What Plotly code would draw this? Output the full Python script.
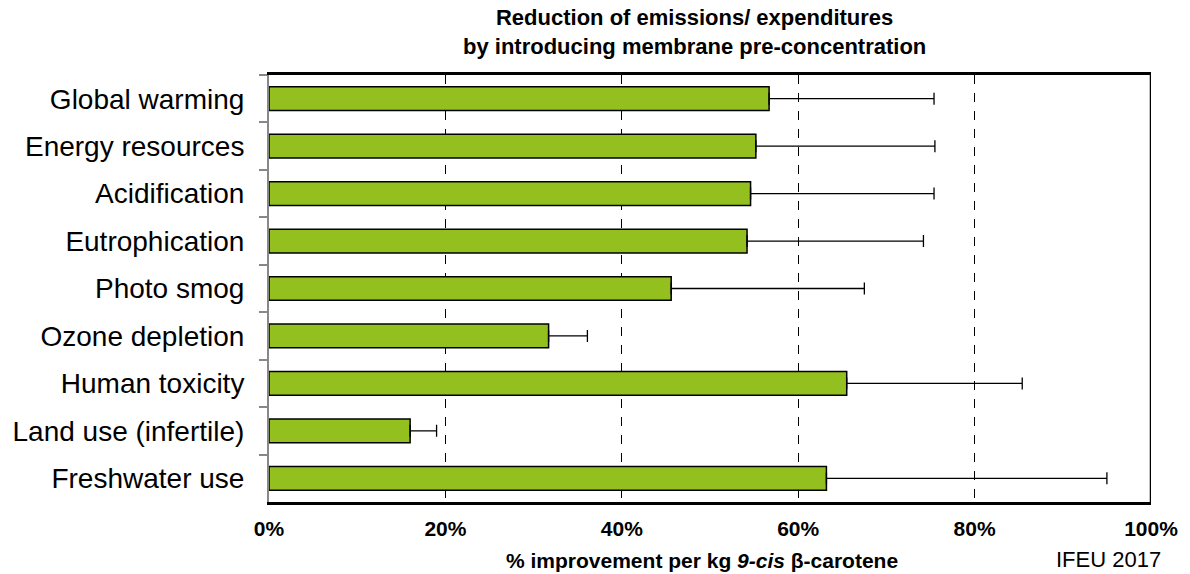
import plotly.graph_objects as go

categories = ["Global warming", "Energy resources", "Acidification", "Eutrophication",
              "Photo smog", "Ozone depletion", "Human toxicity", "Land use (infertile)",
              "Freshwater use"]
values = [56.7, 55.2, 54.6, 54.2, 45.6, 31.7, 65.5, 16.0, 63.2]
upper = [75.4, 75.5, 75.4, 74.2, 67.5, 36.1, 85.4, 19.0, 95.0]
err_plus = [u - v for u, v in zip(upper, values)]
tick_vals = [0, 20, 40, 60, 80, 100]
tick_text = ["0%", "20%", "40%", "60%", "80%", "100%"]

FONT = "Liberation Sans, Arial, sans-serif"

fig = go.Figure(go.Bar(
    y=categories, x=values, orientation="h",
    marker=dict(color="#93C01F", line=dict(color="black", width=1.5)),
    error_x=dict(type="data", symmetric=False, array=err_plus, arrayminus=[0]*len(values),
                 color="black", thickness=1.3, width=6),
    width=0.5,
))

fig.update_layout(
    width=1190, height=574,
    margin=dict(l=267, r=35, t=75, b=72),
    plot_bgcolor="white", paper_bgcolor="white",
    showlegend=False,
    font=dict(family=FONT, color="black"),
)
fig.update_xaxes(
    range=[0, 100], tickvals=tick_vals, ticktext=tick_text,
    tickfont=dict(size=21, family=FONT, color="black", weight="bold"),
    showgrid=True, gridcolor="black", griddash="dash", gridwidth=1,
    showline=True, linecolor="black", linewidth=2.5, mirror=True,
    ticks="", ticklabelstandoff=6, zeroline=False,
)
fig.update_yaxes(
    autorange="reversed", tickfont=dict(size=28, family=FONT, color="black"),
    showline=True, linecolor="#888888", linewidth=2,
    ticks="outside", tickson="boundaries", ticklen=8, tickcolor="#888888", tickwidth=1.5,
    showgrid=False, ticklabelstandoff=17,
)
# right border
fig.add_shape(type="line", xref="x", yref="paper", x0=100, x1=100, y0=0, y1=1,
              line=dict(color="black", width=2.5))

fig.add_annotation(xref="paper", yref="paper", x=0.482, y=1.0, yshift=14, yanchor="bottom",
                   xanchor="center", showarrow=False, align="center",
                   text="<b>Reduction of emissions/ expenditures<br>by introducing membrane pre-concentration</b>",
                   font=dict(size=22, family=FONT, color="black"))
fig.add_annotation(xref="paper", yref="paper", x=0.491, y=0, yshift=-58, yanchor="middle",
                   xanchor="center", showarrow=False,
                   text="<b>% improvement per kg <i>9-cis</i> β-carotene</b>",
                   font=dict(size=21, family=FONT, color="black"))
fig.add_annotation(xref="paper", yref="paper", x=1.0, xshift=12, y=0, yshift=-57, yanchor="middle",
                   xanchor="right", showarrow=False,
                   text="IFEU 2017",
                   font=dict(size=22, family=FONT, color="black"))

fig.write_html("out.html")
